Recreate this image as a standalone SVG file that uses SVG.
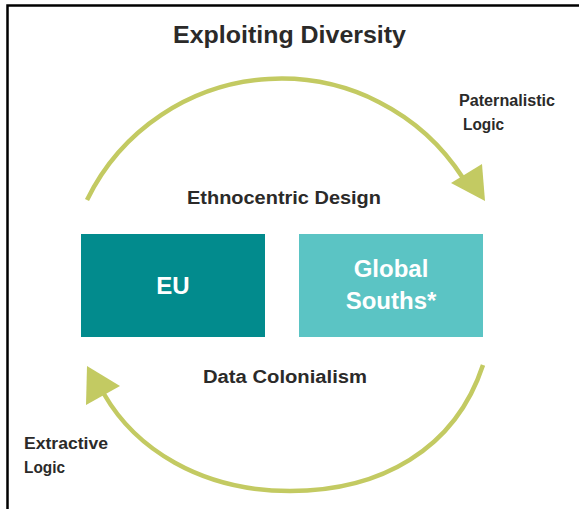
<svg xmlns="http://www.w3.org/2000/svg" width="579" height="509" viewBox="0 0 579 509">
<style>
.t{font-family:"Liberation Sans",Arial,sans-serif;font-weight:bold;fill:#2b2a29}
.w{font-family:"Liberation Sans",Arial,sans-serif;font-weight:bold;fill:#ffffff;text-anchor:middle}
.arc{fill:none;stroke:#c3ca62;stroke-width:4.5}
.head{fill:#c3ca62}
</style>
<rect width="579" height="509" fill="#ffffff"/>
<path d="M7.5,509 V5.5 H579" fill="none" stroke="#000" stroke-width="2.5"/>
<text class="t" x="173" y="43" font-size="23" textLength="233" lengthAdjust="spacingAndGlyphs">Exploiting Diversity</text>
<g id="connectors">
<path class="arc" d="M87,200 A216,216 0 0 1 463,178"/>
<polygon class="head" points="451,183 482,164 485,201"/>
<path class="arc" d="M483,365 C455,450 380,491 290,491 C200,491 135,448 104,394"/>
<polygon class="head" points="87,366 120,386 86,405"/>
</g>
<g id="label-ethnocentric"><text class="t" x="187" y="204" font-size="18" textLength="194" lengthAdjust="spacingAndGlyphs">Ethnocentric Design</text></g>
<g id="label-data"><text class="t" x="203" y="383" font-size="18" textLength="164" lengthAdjust="spacingAndGlyphs">Data Colonialism</text></g>
<g id="label-paternalistic"><text class="t" x="459" y="106" font-size="16" textLength="96" lengthAdjust="spacingAndGlyphs">Paternalistic</text><text class="t" x="463" y="130" font-size="16" textLength="41" lengthAdjust="spacingAndGlyphs">Logic</text></g>
<g id="label-extractive"><text class="t" x="24" y="449" font-size="16" textLength="84" lengthAdjust="spacingAndGlyphs">Extractive</text><text class="t" x="24" y="473" font-size="16" textLength="41" lengthAdjust="spacingAndGlyphs">Logic</text></g>
<g id="eu"><rect x="81" y="234" width="184" height="103" fill="#028b8d"/><text class="w" x="173" y="294" font-size="24">EU</text></g>
<g id="global-souths"><rect x="299" y="234" width="184" height="103" fill="#5bc4c4"/><text class="w" x="391" y="277" font-size="24">Global</text><text class="w" x="391" y="309" font-size="24">Souths*</text></g>
</svg>
